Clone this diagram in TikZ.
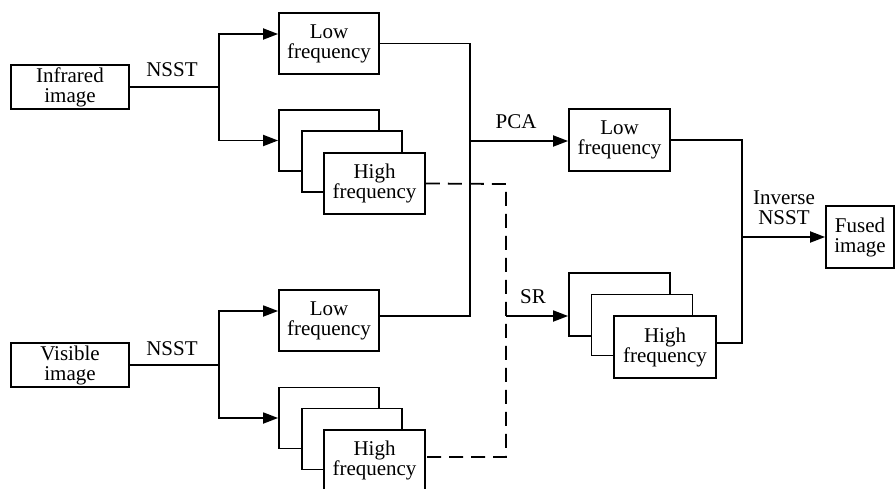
\documentclass[tikz,border=0pt]{standalone}
\usepackage{fontspec}
\setmainfont{Liberation Serif}
\usetikzlibrary{arrows.meta,calc}
\begin{document}
\begin{tikzpicture}[x=1pt,y=-1pt,
  every node/.style={font=\fontsize{21}{20}\selectfont},
  blk/.style={draw,line width=1.8pt,fill=white,align=center,inner sep=0pt,
              minimum width=100pt,minimum height=61pt},
  inbox/.style={blk,minimum width=118pt,minimum height=44pt},
  wire/.style={line width=1.8pt},
  arr/.style={wire,-{Triangle[length=15pt,width=11pt]}},
  dash line/.style={line width=1.8pt,dash pattern=on 14pt off 8pt}]
\useasboundingbox (0,0) rectangle (896,488);

% inputs
\node[inbox] (ir) at (70,87) {Infrared\\image};
\node[inbox] (vis) at (70,365) {Visible\\image};

% infrared decomposition
\node[blk] (lowA) at (329,43.5) {Low\\frequency};
\node[blk] (hiA1) at (329,140.5) {};
\node[blk] (hiA2) at (352,161.5) {};
\node[blk,minimum width=101pt] (hiA3) at (374.5,183.5) {High\\frequency};

% visible decomposition
\node[blk] (lowB) at (329,320.5) {Low\\frequency};
\node[blk] (hiB1) at (329,418) {};
\node[blk] (hiB2) at (352,439) {};
\node[blk,minimum width=101pt] (hiB3) at (374.5,460.5) {High\\frequency};

% fused coefficients
\node[blk,minimum width=101pt,minimum height=62pt] (lowF) at (619.5,140) {Low\\frequency};
\node[blk,minimum width=101pt,minimum height=63pt] (hiF1) at (619.5,304.5) {};
\node[blk,minimum width=101pt] (hiF2) at (642,325) {};
\node[blk,minimum width=102pt,minimum height=62pt] (hiF3) at (665,347) {High\\frequency};

% output
\node[blk,minimum width=68pt,minimum height=62pt] (fused) at (860,237) {Fused\\image};

% junction points
\coordinate (jA) at (219,87);
\coordinate (jB) at (219,365);
\coordinate (jL) at (470,141);
\coordinate (jH) at (506,316);
\coordinate (jO) at (742,237);

% NSST of the infrared image
\draw[wire] (ir.east) -- (jA);
\draw[arr] (jA) |- ([yshift=9.5pt]lowA.west);
\draw[arr] (jA) |- (hiA1.west);
\node[anchor=south] (nsstA) at (172,80) {NSST};

% NSST of the visible image
\draw[wire] (vis.east) -- (jB);
\draw[arr] (jB) |- ([yshift=9.5pt]lowB.west);
\draw[arr] (jB) |- (hiB1.west);
\node[anchor=south] (nsstB) at (172,359) {NSST};

% low-frequency fusion (PCA)
\draw[wire] (lowA.east) -| (470,316) -- ([yshift=4.5pt]lowB.east);
\draw[arr] (jL) -- (lowF.west |- jL);
\node[anchor=south] (pca) at (516,132) {PCA};

% high-frequency fusion (SR)
\draw[dash line] (hiA3.east) -- (506,184) -- (506,457) -- ([yshift=3.5pt]hiB3.east);
\draw[arr] (jH) -- (hiF1.west |- jH);
\node[anchor=south] (sr) at (533,307) {SR};

% inverse NSST
\draw[wire] (lowF.east) -| (742,343) -- ([yshift=4pt]hiF3.east);
\draw[arr] (jO) -- (fused.west);
\node[align=center] (inv) at (784,208) {Inverse\\NSST};
\end{tikzpicture}
\end{document}
